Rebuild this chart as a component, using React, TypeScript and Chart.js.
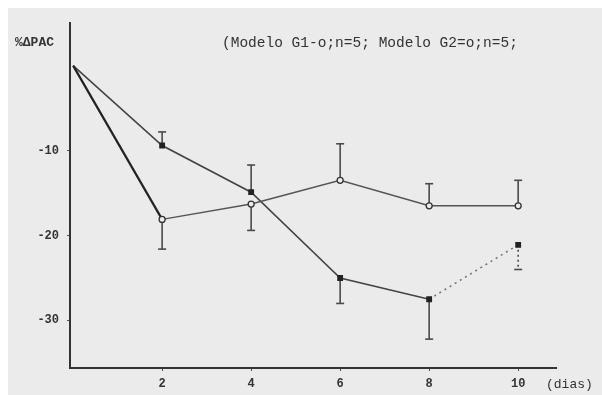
import React, { useEffect, useRef } from "react";
import { Chart, registerables } from "chart.js";

Chart.register(...registerables);

const days = [0, 2, 4, 6, 8, 10];
const g1Values = [0, -18.1, -16.3, -13.5, -16.5, -16.5];
const g1ErrEnd = [null, -21.6, -19.4, -9.2, -13.9, -13.5];
const g2Values = [0, -9.4, -14.9, -25.0, -27.5, -21.1];
const g2ErrEnd = [null, -7.8, -11.7, -28.0, -32.2, -24.0];
const yTicks = [-30, -20, -10];
const xTicks = [2, 4, 6, 8, 10];
const yTitle = "%ΔPAC";
const legendText = "(Modelo G1-o;n=5; Modelo G2=o;n=5;";
const xTitle = "(dias)";

const errorBars = {
  id: "errorBars",
  beforeDatasetsDraw(chart: any) {
    const ctx = chart.ctx;
    const yScale = chart.scales.y;
    chart.data.datasets.forEach((ds: any, i: number) => {
      const meta = chart.getDatasetMeta(i);
      const ends = ds.errEnd as (number | null)[];
      ends.forEach((e, j) => {
        if (e === null || e === undefined) return;
        const pt = meta.data[j];
        const x = pt.x;
        const y0 = pt.y;
        const y1 = yScale.getPixelForValue(e);
        ctx.save();
        ctx.strokeStyle = "#4a4a4a";
        ctx.lineWidth = 1.6;
        if (ds.dashedErr && ds.dashedErr.includes(j)) ctx.setLineDash([2, 3]);
        ctx.beginPath();
        ctx.moveTo(x, y0);
        ctx.lineTo(x, y1);
        ctx.stroke();
        ctx.setLineDash([]);
        ctx.beginPath();
        ctx.moveTo(x - 4, y1);
        ctx.lineTo(x + 4, y1);
        ctx.stroke();
        ctx.restore();
      });
    });
  },
};

export default function App() {
  const ref = useRef<HTMLCanvasElement>(null);
  useEffect(() => {
    if (!ref.current) return;
    const chart = new Chart(ref.current, {
      type: "line",
      data: {
        datasets: [
          {
            label: "G1",
            data: days.map((d, i) => ({ x: d, y: g1Values[i] })),
            errEnd: g1ErrEnd,
            borderColor: "#444",
            borderWidth: 1.5,
            pointRadius: [0, 3, 3, 3, 3, 3],
            pointBackgroundColor: "#ebebeb",
            pointBorderColor: "#333",
            pointBorderWidth: 1.3,
            segment: {
              borderColor: (c: any) => (c.p0DataIndex === 0 ? "#222" : "#555"),
              borderWidth: (c: any) => (c.p0DataIndex === 0 ? 2.2 : 1.5),
            },
          } as any,
          {
            label: "G2",
            data: days.map((d, i) => ({ x: d, y: g2Values[i] })),
            errEnd: g2ErrEnd,
            dashedErr: [5],
            borderColor: "#444",
            borderWidth: 1.6,
            pointRadius: [0, 3, 3, 3, 3, 3],
            pointStyle: "rect",
            pointBackgroundColor: "#222",
            pointBorderColor: "#222",
            segment: {
              borderDash: (c: any) => (c.p0DataIndex === 4 ? [2, 4] : undefined),
              borderColor: (c: any) => (c.p0DataIndex === 4 ? "#777" : "#444"),
            },
          } as any,
        ],
      },
      options: {
        animation: false,
        responsive: false,
        layout: { padding: { top: 12, right: 46, left: 0, bottom: 0 } },
        plugins: { legend: { display: false }, tooltip: { enabled: false } },
        scales: {
          x: {
            type: "linear",
            min: -0.07,
            max: 10.85,
            afterFit: (s: any) => {
              s.height = 27;
            },
            afterBuildTicks: (s: any) => {
              s.ticks = xTicks.map((v) => ({ value: v }));
            },
            grid: { drawOnChartArea: false, drawTicks: true, tickLength: 3, color: "#555" },
            border: { display: true, color: "#333", width: 2 },
            ticks: {
              padding: 6,
              color: "#333",
              font: { family: "Liberation Mono", size: 12, weight: "bold" },
              callback: (v: any) => String(v),
            },
          },
          y: {
            type: "linear",
            min: -35.6,
            max: 5.0,
            afterFit: (s: any) => {
              s.width = 62;
            },
            afterBuildTicks: (s: any) => {
              s.ticks = yTicks.map((v) => ({ value: v }));
            },
            grid: { drawOnChartArea: false, drawTicks: true, tickLength: 3, color: "#555" },
            border: { display: true, color: "#333", width: 2 },
            ticks: {
              padding: 8,
              color: "#333",
              font: { family: "Liberation Mono", size: 12, weight: "bold" },
              callback: (v: any) => String(v),
            },
          },
        },
      } as any,
      plugins: [errorBars],
    });
    return () => chart.destroy();
  }, []);

  const txt: React.CSSProperties = {
    position: "absolute",
    fontFamily: "Liberation Mono, monospace",
    color: "#333",
    whiteSpace: "nowrap",
    lineHeight: 1,
  };

  return (
    <div
      style={{
        position: "fixed",
        left: 8,
        top: 8,
        width: 594,
        height: 387,
        background: "#ebebeb",
        overflow: "hidden",
      }}
    >
      <canvas ref={ref} width={594} height={387} style={{ display: "block" }} />
      <span style={{ ...txt, left: 7, top: 28, fontSize: 13, fontWeight: "bold" }}>{yTitle}</span>
      <span style={{ ...txt, left: 214, top: 28, fontSize: 14.5 }}>{legendText}</span>
      <span style={{ ...txt, left: 538, top: 370, fontSize: 13 }}>{xTitle}</span>
    </div>
  );
}
